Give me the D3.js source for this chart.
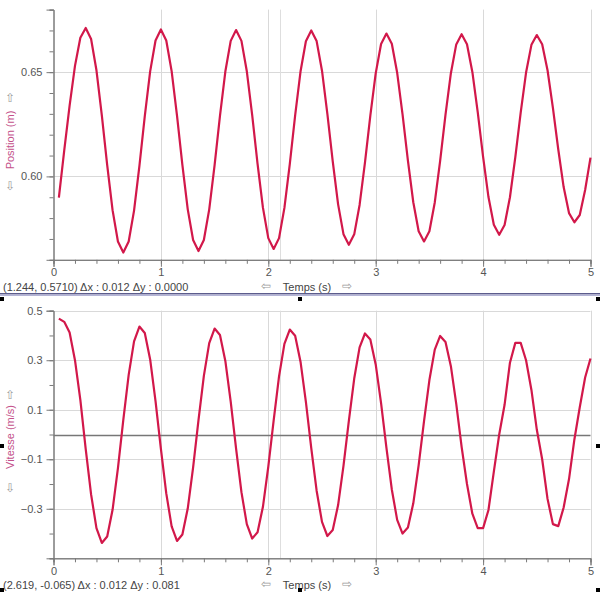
<!DOCTYPE html>
<html><head><meta charset="utf-8">
<script src="https://cdn.jsdelivr.net/npm/d3@7"></script>
<style>
html,body{margin:0;padding:0;background:#fff;}
svg{display:block;}
text{font-family:"Liberation Sans",Arial,sans-serif;}
</style></head>
<body>
<svg id="c" width="600" height="592"></svg>
<script>
// ---- data ----
const times = d3.range(100).map(i => +(0.05 + i * 0.05).toFixed(2)); // sample times (s), 0.05 s step
const position = [
0.5898,0.6125,0.6340,0.6530,0.6665,0.6712,
0.6659,0.6509,0.6293,0.6054,0.5838,0.5688,0.5635,
0.5688,0.5836,0.6051,0.6289,0.6504,0.6652,0.6705,
0.6652,0.6505,0.6292,0.6055,0.5842,0.5695,0.5642,
0.5695,0.5842,0.6054,0.6290,0.6503,0.6650,0.6702,
0.6650,0.6504,0.6294,0.6060,0.5850,0.5704,0.5652,
0.5704,0.5849,0.6059,0.6293,0.6503,0.6648,0.6700,
0.6649,0.6507,0.6300,0.6072,0.5866,0.5723,0.5672,
0.5722,0.5863,0.6066,0.6291,0.6494,0.6635,0.6685,
0.6636,0.6497,0.6297,0.6076,0.5876,0.5737,0.5688,
0.5737,0.5875,0.6074,0.6296,0.6495,0.6633,0.6682,
0.6634,0.6501,0.6308,0.6094,0.5901,0.5768,0.5720,
0.5767,0.5900,0.6092,0.6306,0.6498,0.6631,0.6678,
0.6634,0.6509,0.6329,0.6129,0.5949,0.5824,0.5780,
0.5815,0.5935,0.6090];
const vitesse = [
0.468,0.455,0.412,0.300,0.140,
-0.059,-0.242,-0.378,-0.438,-0.412,-0.304,-0.136,
0.059,0.241,0.376,0.436,0.410,0.303,0.135,
-0.058,-0.238,-0.371,-0.430,-0.404,-0.299,-0.133,
0.058,0.237,0.369,0.428,0.402,0.297,0.133,
-0.057,-0.233,-0.362,-0.420,-0.395,-0.292,-0.130,
0.057,0.235,0.366,0.424,0.399,0.294,0.132,
-0.055,-0.227,-0.353,-0.410,-0.386,-0.285,-0.127,
0.055,0.226,0.352,0.408,0.384,0.283,0.127,
-0.054,-0.222,-0.345,-0.400,-0.376,-0.278,-0.124,
0.054,0.220,0.343,0.398,0.374,0.276,0.124,
-0.050,-0.200,-0.320,-0.378,-0.378,-0.305,-0.150,
0.000,0.120,0.290,0.370,0.370,0.300,0.180,
0.020,-0.100,-0.260,-0.362,-0.370,-0.295,-0.180,
-0.020,0.110,0.230,0.307];
const xTicks = [0,1,2,3,4,5];
const posTicks = [0.60,0.65];
const velTicks = [-0.3,-0.1,0.1,0.3,0.5];
const cursorT = 2.11;
const statusTop = "(1.244, 0.5710) \u0394x : 0.012 \u0394y : 0.0000";
const statusBottom = "(2.619, -0.065) \u0394x : 0.012 \u0394y : 0.081";
const xTitle = "Temps (s)";
const posTitle = "Position (m)";
const velTitle = "Vitesse (m/s)";

// ---- drawing ----
const svg = d3.select("#c");
const LINE = "#d2184a", AX = "#7a7a7a", GRID = "#d9d9d9", TXT = "#555", TITLE = "#c4508a";
const x = d3.scaleLinear().domain([0,5]).range([53.5,590.5]);

function arrow(g, xp, yp, ch, size){
  g.append("text").attr("x", xp).attr("y", yp).attr("text-anchor","middle").attr("font-size", size)
    .attr("fill", "#9a9a9a").attr("font-family","DejaVu Sans").text(ch);
}

function panel(cfg){
  const y = d3.scaleLinear().domain(cfg.domain).range(cfg.range);
  const g = svg.append("g");
  const [yb, yt] = cfg.range;
  // gridlines
  g.selectAll(".hg").data(cfg.grid).enter().append("line")
    .attr("x1", x(0)).attr("x2", x(5)).attr("y1", d=>Math.round(y(d))+0.5).attr("y2", d=>Math.round(y(d))+0.5)
    .attr("stroke", GRID).attr("stroke-width",1);
  g.selectAll(".vg").data(xTicks.slice(1)).enter().append("line")
    .attr("x1", d=>Math.round(x(d))+0.5).attr("x2", d=>Math.round(x(d))+0.5).attr("y1", yt).attr("y2", yb)
    .attr("stroke", GRID).attr("stroke-width",1);
  g.append("line").attr("x1", Math.round(x(cursorT))+0.5).attr("x2", Math.round(x(cursorT))+0.5)
    .attr("y1", yt).attr("y2", yb).attr("stroke", "#dedede");
  if (cfg.zero) {
    g.append("line").attr("x1", x(0)).attr("x2", x(5)).attr("y1", Math.round(y(0))+0.5).attr("y2", Math.round(y(0))+0.5)
      .attr("stroke", "#777").attr("stroke-width", 1.3);
  }
  // x axis
  const xa = d3.axisBottom(x).tickValues(xTicks).tickSize(7).tickFormat(d3.format("d"));
  const xg = g.append("g").attr("transform", `translate(0,${yb})`).call(xa);
  const xm = d3.axisBottom(x).tickValues(d3.range(0,5.01,0.2)).tickSize(4).tickFormat("");
  g.append("g").attr("transform", `translate(0,${yb})`).call(xm);
  // y axis
  const ya = d3.axisLeft(y).tickValues(cfg.ticks).tickSize(7).tickFormat(cfg.fmt);
  const yg = g.append("g").attr("transform", `translate(${x(0)},0)`).call(ya);
  const ym = d3.axisLeft(y).tickValues(cfg.minor).tickSize(4).tickFormat("");
  g.append("g").attr("transform", `translate(${x(0)},0)`).call(ym);
  g.selectAll(".domain").attr("stroke", AX);
  g.selectAll(".tick line").attr("stroke", AX);
  g.selectAll(".tick text").attr("fill", TXT).attr("font-size", 11).attr("font-family", '"Liberation Sans",Arial,sans-serif');
  xg.selectAll(".tick text").attr("dy", "0.6em");
  yg.selectAll(".tick text").attr("dx", "-1");
  // line
  const ln = d3.line().x((d,i)=>x(times[i])).y(d=>y(d));
  g.append("path").datum(cfg.values).attr("d", ln).attr("fill","none")
    .attr("stroke", LINE).attr("stroke-width", 2.2).attr("stroke-linejoin","round");
  // y title
  g.append("text").attr("transform", `translate(14,${cfg.titleY}) rotate(-90)`).attr("text-anchor","middle")
    .attr("font-size", 11).attr("fill", TITLE).text(cfg.title);
  arrow(g, 10, cfg.upY, "\u21E7", 12);
  arrow(g, 10, cfg.dnY, "\u21E9", 12);
  // status + x title
  g.append("text").attr("x", 3).attr("y", cfg.statusY).attr("font-size", 11).attr("fill", "#444").text(cfg.status);
  g.append("text").attr("x", 307).attr("y", cfg.statusY).attr("text-anchor","middle").attr("font-size", 11).attr("fill", "#444").text(xTitle);
  arrow(g, 266, cfg.statusY - 1, "\u21E6", 12);
  arrow(g, 347, cfg.statusY - 1, "\u21E8", 12);
}

panel({domain:[0.56,0.68], range:[259.8,9.6], ticks:posTicks, grid:posTicks,
  minor:d3.range(56,68.5,1).map(v=>v/100), fmt:d3.format(".2f"), values:position,
  title:posTitle, titleY:140, upY:102, dnY:190, status:statusTop, statusY:290.5, zero:false});
panel({domain:[-0.5,0.5], range:[558.3,310.7], ticks:velTicks, grid:velTicks,
  minor:d3.range(-5,5.5,1).map(v=>v/10), fmt:d3.format(".1f"), values:vitesse,
  title:velTitle, titleY:437, upY:399, dnY:492, status:statusBottom, statusY:589, zero:true});

// separator and selection handles
svg.append("rect").attr("x",0).attr("y",293).attr("width",600).attr("height",1.5).attr("fill","#5c5c8c");
svg.append("rect").attr("x",0).attr("y",294.5).attr("width",600).attr("height",1.5).attr("fill","#b4b4d6");
const handles = [[0,297],[298,297],[596,297],[0,444],[596,444],[0,588],[298,588],[596,588]];
svg.selectAll(".h").data(handles).enter().append("rect")
  .attr("x",d=>d[0]).attr("y",d=>d[1]).attr("width",4).attr("height",4).attr("fill","#000");
</script>
</body></html>
